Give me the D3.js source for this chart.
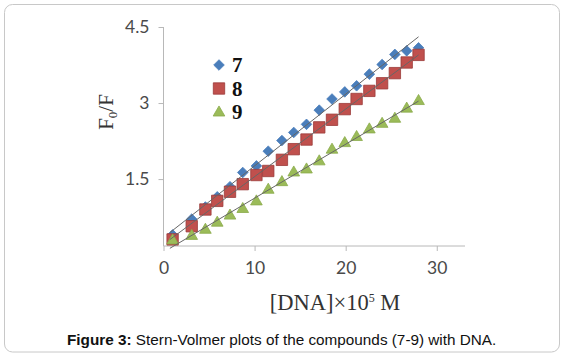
<!DOCTYPE html>
<html><head><meta charset="utf-8">
<script src="https://cdn.jsdelivr.net/npm/d3@7"></script>
<style>html,body{margin:0;padding:0;background:#fff;}</style>
</head><body>
<svg id="c" width="564" height="356"></svg>
<script>
const xValues = [1, 3.1, 4.6, 5.9, 7.3, 8.7, 10.2, 11.5, 13.0, 14.3, 15.7, 17.1, 18.5, 19.9, 21.2, 22.6, 24.0, 25.4, 26.7, 28.0];
const series7 = [0.40, 0.71, 0.95, 1.15, 1.35, 1.63, 1.76, 2.05, 2.26, 2.42, 2.58, 2.86, 3.08, 3.22, 3.34, 3.57, 3.76, 3.96, 4.03, 4.09];
const series8 = [0.31, 0.57, 0.90, 1.07, 1.25, 1.40, 1.58, 1.66, 1.88, 2.09, 2.28, 2.52, 2.67, 2.88, 3.08, 3.24, 3.39, 3.59, 3.80, 3.95];
const series9 = [0.30, 0.39, 0.51, 0.65, 0.79, 0.92, 1.07, 1.30, 1.45, 1.64, 1.70, 1.86, 2.09, 2.22, 2.34, 2.49, 2.60, 2.70, 2.90, 3.05];
const seriesNames = ["7", "8", "9"];
const xTicks = [0, 10, 20, 30];
const yTicks = [1.5, 3, 4.5];
const captionBold = "Figure 3:";
const captionText = " Stern-Volmer plots of the compounds (7-9) with DNA.";

const svg = d3.select("#c");
svg.append("rect").attr("x", 4.5).attr("y", 4.5).attr("width", 555).attr("height", 347.5)
  .attr("rx", 8).attr("fill", "#fff").attr("stroke", "#c8c8c8").attr("stroke-width", 1);

const x = d3.scaleLinear().domain([0, 33.1]).range([163.5, 465]);
const y = d3.scaleLinear().domain([0.18, 4.5]).range([246, 27]);

const axisColor = "#b8b8b8";
const tickFont = "Lato, 'Open Sans', sans-serif";

// axes
const gx = svg.append("g").attr("transform", `translate(0,${y(0.18)})`)
  .call(d3.axisBottom(x).tickValues(xTicks).tickSize(5).tickPadding(11).tickFormat(d3.format("d")));
const gy = svg.append("g").attr("transform", `translate(${x(0)},0)`)
  .call(d3.axisLeft(y).tickValues(yTicks).tickSize(5).tickPadding(9).tickFormat(d => String(d)));
[gx, gy].forEach(g => {
  g.select(".domain").attr("stroke", axisColor);
  g.selectAll(".tick line").attr("stroke", axisColor);
  g.selectAll(".tick text").attr("fill", "#4a4a4a").style("font-family", tickFont).style("font-size", "17.5px");
});
gy.select(".domain").attr("d", `M-0,${y(4.5)}V${y(0.18)}`);
gx.select(".domain").attr("d", `M${x(0)},0H${x(33.1)}`);

const colors = ["#4a7ebb", "#c0504d", "#9bbb59"];
const strokes = ["#4a7ebb", "#9a3a38", "#8aab4a"];
const allSeries = [series7, series8, series9];

function markerPath(i, s) {
  if (i === 0) return `M0,${-s}L${s},0L0,${s}L${-s},0Z`;
  if (i === 1) return `M${-s},${-s}H${s}V${s}H${-s}Z`;
  const h = s * 1.9;
  return `M0,${-h * 0.6}L${s * 1.1},${h * 0.4}L${-s * 1.1},${h * 0.4}Z`;
}
const sizes = [5.3, 5.7, 5.3];

const plot = svg.append("g");
allSeries.forEach((vals, i) => {
  plot.selectAll(null).data(vals).enter().append("path")
    .attr("d", markerPath(i, sizes[i]))
    .attr("transform", (d, j) => `translate(${x(xValues[j])},${y(d)})`)
    .attr("fill", colors[i]).attr("stroke", strokes[i]).attr("stroke-width", 0.8);
});

// linear trendlines
allSeries.forEach((vals, i) => {
  const n = vals.length;
  const mx = d3.mean(xValues), my = d3.mean(vals);
  let sxy = 0, sxx = 0;
  for (let j = 0; j < n; j++) { sxy += (xValues[j] - mx) * (vals[j] - my); sxx += (xValues[j] - mx) ** 2; }
  const b = sxy / sxx, a = my - b * mx;
  const x0 = d3.min(xValues) - 0.3, x1 = d3.max(xValues);
  plot.append("line")
    .attr("x1", x(x0)).attr("y1", y(a + b * x0))
    .attr("x2", x(x1)).attr("y2", y(a + b * x1))
    .attr("stroke", "#666").attr("stroke-width", 1);
});

// legend
const legend = svg.append("g");
seriesNames.forEach((nm, i) => {
  const ly = 65 + i * 23.5;
  legend.append("path").attr("d", markerPath(i, sizes[i]))
    .attr("transform", `translate(219,${ly})`)
    .attr("fill", colors[i]).attr("stroke", strokes[i]).attr("stroke-width", 0.8);
  legend.append("text").attr("x", 232).attr("y", ly + 7)
    .style("font-family", "'Liberation Serif', 'DejaVu Serif', serif").style("font-size", "21px")
    .style("font-weight", "bold").attr("fill", "#111").text(nm);
});

// y title
const yt = svg.append("text").attr("transform", "translate(113,112) rotate(-90)")
  .attr("text-anchor", "middle").style("font-family", "'Liberation Serif', serif")
  .style("font-size", "21px").attr("fill", "#333");
yt.append("tspan").text("F");
yt.append("tspan").attr("dy", 4).style("font-size", "13px").text("0");
yt.append("tspan").attr("dy", -4).text("/F");

// x title
const xt = svg.append("text").attr("x", 335).attr("y", 310)
  .attr("text-anchor", "middle").style("font-family", "'Liberation Serif', serif")
  .style("font-size", "22.5px").attr("fill", "#333");
xt.append("tspan").text("[DNA]×10");
xt.append("tspan").attr("dy", -8).style("font-size", "12px").text("5");
xt.append("tspan").attr("dy", 8).text(" M");

// caption
const cap = svg.append("text").attr("x", 67).attr("y", 345)
  .style("font-family", "'Liberation Sans', Arial, sans-serif").style("font-size", "15.3px").attr("fill", "#111");
cap.append("tspan").style("font-weight", "bold").text(captionBold);
cap.append("tspan").text(captionText);
</script>
</body></html>
